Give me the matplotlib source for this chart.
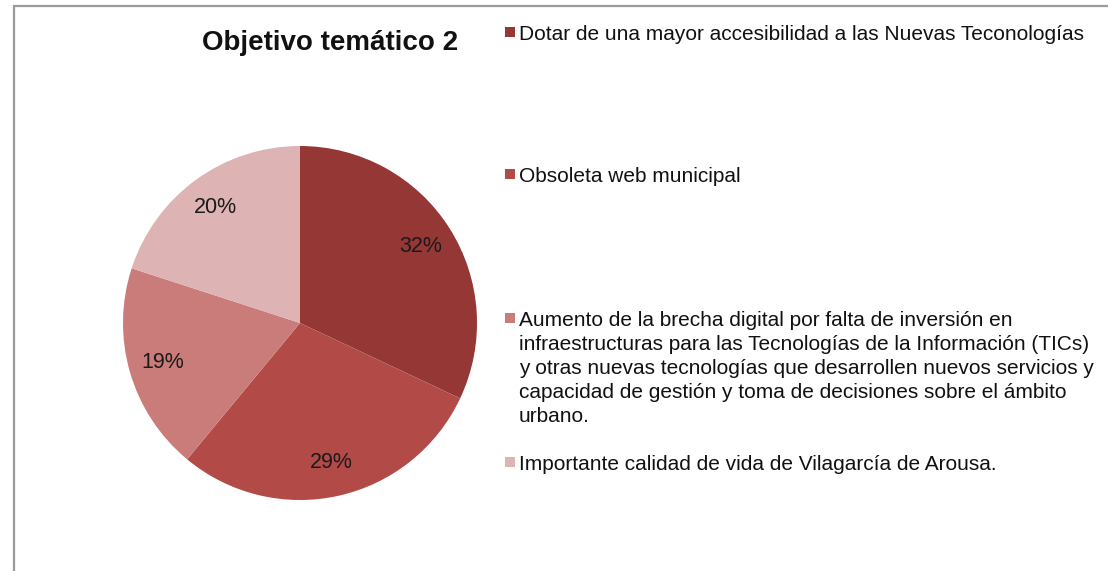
import textwrap
import matplotlib
matplotlib.use("Agg")
import matplotlib.pyplot as plt
from matplotlib.patches import Rectangle

plt.rcParams['font.family'] = ['Liberation Sans', 'DejaVu Sans']

title = "Objetivo temático 2"
labels = [
    "Dotar de una mayor accesibilidad a las Nuevas Teconologías",
    "Obsoleta web municipal",
    "Aumento de la brecha digital por falta de inversión en infraestructuras para las "
    "Tecnologías de la Información (TICs) y otras nuevas tecnologías que desarrollen "
    "nuevos servicios y capacidad de gestión y toma de decisiones sobre el ámbito urbano.",
    "Importante calidad de vida de Vilagarcía de Arousa.",
]
shares = [32, 29, 19, 20]
colors = ["#953735", "#b24a47", "#c97c7a", "#ddb3b3"]

W, H = 1108, 571
fig = plt.figure(figsize=(W / 100, H / 100), dpi=100)

# outer chart border (only top and left visible in the crop)
fig.patches.append(Rectangle((13.5 / W, -0.1), 1.2, 1.1 - 6.5 / H,
                             transform=fig.transFigure, fill=False,
                             edgecolor="#9a9a9a", linewidth=1.6))

# pie: centre ~ (300, 323), radius ~ 177 px
cx, cy, r = 300, 323, 177
ax = fig.add_axes([(cx - r) / W, 1 - (cy + r) / H, 2 * r / W, 2 * r / H])
ax.pie(shares, colors=colors, startangle=90, counterclock=False,
       autopct="%1.0f%%", pctdistance=0.81,
       wedgeprops=dict(linewidth=0),
       textprops=dict(fontsize=15.5, color="#1a1a1a"))
ax.set_aspect("equal")
ax.set_xlim(-1, 1)
ax.set_ylim(-1, 1)

fig.text(330 / W, 1 - 43 / H, title, fontsize=20, fontweight="bold",
         ha="center", va="center", color="#111111")

# legend, entries evenly spaced like the original
tops = [25, 167, 311, 455]
for lab, col, top in zip(labels, colors, tops):
    fig.patches.append(Rectangle((505 / W, 1 - (top + 12) / H), 10 / W, 10 / H,
                                 transform=fig.transFigure, facecolor=col,
                                 edgecolor="none"))
    fig.text(519 / W, 1 - top / H, "\n".join(textwrap.wrap(lab, 62)),
             fontsize=15, ha="left", va="top", linespacing=1.34,
             color="#111111")

fig.savefig("out.png", dpi=100)
